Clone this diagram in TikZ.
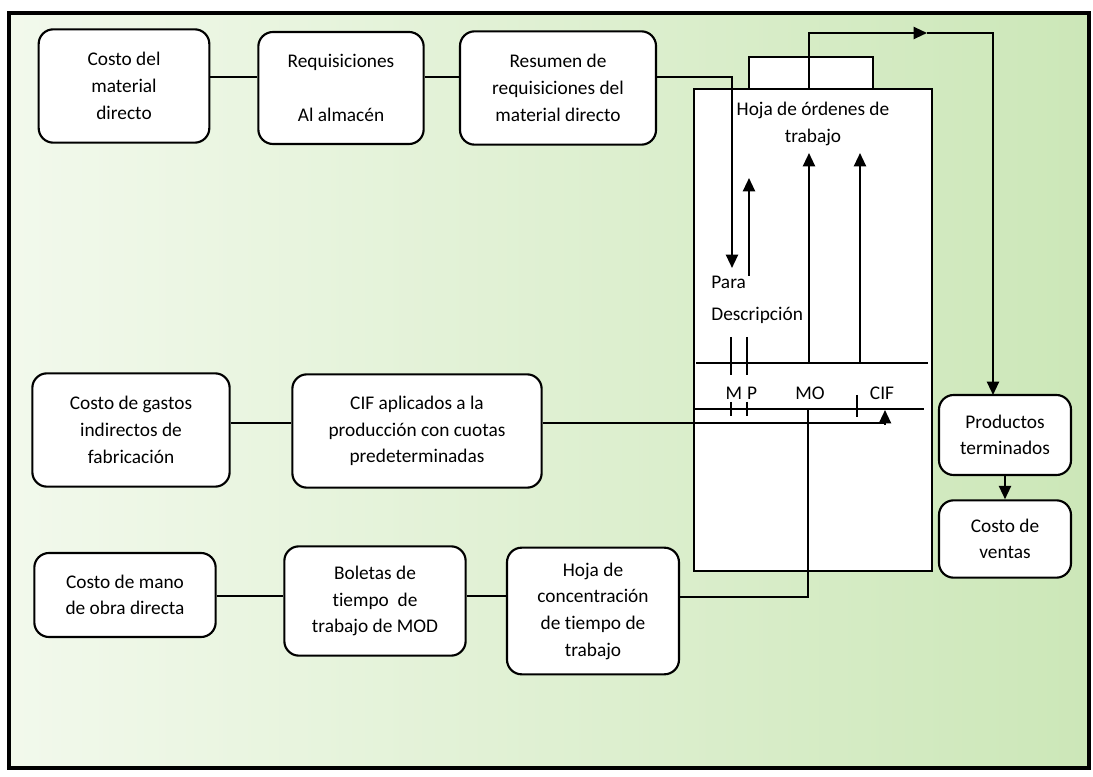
\documentclass[tikz,border=0pt]{standalone}
\usepackage{fontspec}
\setmainfont{Carlito}[Ligatures = CommonOff]
\usetikzlibrary{arrows.meta}
\definecolor{fondoizq}{RGB}{242,249,236}
\definecolor{fondomed}{RGB}{226,242,212}
\definecolor{fondoder}{RGB}{204,231,184}

\begin{document}
\begin{tikzpicture}[
    % one unit = one pixel of the reference
    x = 0.75pt, y = -0.75pt,
    line width = 1.6pt,
    > = {Triangle[length = 10pt, width = 9pt]},
    caja/.style = {draw, fill = white, rounded corners = 11pt,
      align = center, inner sep = 2pt,
      font = \fontsize{14.5}{20}\selectfont},
    hoja/.style = {draw, fill = white, rectangle, inner sep = 0pt},
    rotulo/.style = {font = \fontsize{14.5}{20}\selectfont, inner sep = 1pt},
    ]

    \useasboundingbox (0, 0) rectangle (1093, 777);
    % green background and frame
    \shade[left color = fondoizq, middle color = fondomed, right color = fondoder]
        (9, 13) rectangle (1089, 768);
    \draw[line width = 2.4pt] (9, 13) rectangle (1089, 768);

    % rows of boxes
    \node[caja, minimum width = 128pt, minimum height = 85pt] (cmd) at (124, 86)
        {Costo del\\ material\\ directo};
    \node[caja, minimum width = 124pt, minimum height = 84pt] (req) at (341, 88)
        {Requisiciones\\ ~\\ Al almacén};
    \node[caja, minimum width = 147pt, minimum height = 85pt] (res) at (558, 88)
        {Resumen de\\ requisiciones del\\ material directo};

    \node[caja, minimum width = 148pt, minimum height = 85pt] (cgi) at (131, 430)
        {Costo de gastos\\ indirectos de\\ fabricación};
    \node[caja, minimum width = 187pt, minimum height = 85pt] (cif) at (417, 431)
        {CIF aplicados a la\\ producción con cuotas\\ predeterminadas};

    \node[caja, minimum width = 136pt, minimum height = 63pt] (cmo) at (125, 595)
        {Costo de mano\\ de obra directa};
    \node[caja, minimum width = 136pt, minimum height = 82pt] (bol) at (375, 601)
        {Boletas de\\ tiempo~ de\\ trabajo de MOD};
    \node[caja, minimum width = 129pt, minimum height = 95pt] (hcon) at (593, 611)
        {Hoja de\\ concentración\\ de tiempo de\\ trabajo};

    \node[caja, minimum width = 99pt, minimum height = 60pt] (prod) at (1005, 435)
        {Productos\\ terminados};
    \node[caja, minimum width = 99pt, minimum height = 58pt] (cven) at (1005, 539)
        {Costo de\\ ventas};

    % job order sheet with its tab
    \node[hoja, minimum width = 93pt, minimum height = 24pt] (pest) at (811, 73) {};
    \node[hoja, minimum width = 178.5pt, minimum height = 361.5pt] (hoja) at (813, 330) {};
    \node[rotulo, align = center] (titulo) at (813, 124)
        {Hoja de órdenes de\\ trabajo};
    \node[rotulo, anchor = west] (para) at (709, 282) {Para};
    \node[rotulo, anchor = west] (desc) at (709, 315) {Descripción};
    \node[rotulo] (lm) at (734, 393) {M};
    \node[rotulo] (lp) at (752, 393) {P};
    \node[rotulo] (lmo) at (810, 393) {MO};
    \node[rotulo] (lcif) at (882, 393) {CIF};

    % helper points
    \coordinate (f1) at (0, 77);
    \coordinate (f2) at (0, 423);
    \coordinate (f3) at (0, 596);
    \coordinate (bajaMP) at (732, 268);
    \coordinate (subeP0) at (749, 276);
    \coordinate (subeP1) at (749, 178);
    \coordinate (subeMO0) at (809, 363);
    \coordinate (subeMO1) at (809, 153);
    \coordinate (subeCI0) at (860, 363);
    \coordinate (subeCI1) at (860, 153);
    \coordinate (rayaA0) at (696, 363);
    \coordinate (rayaA1) at (928, 363);
    \coordinate (rayaB0) at (694, 409);
    \coordinate (rayaB1) at (924, 409);
    \coordinate (salida) at (809, 89);
    \coordinate (arriba) at (927, 33);
    \coordinate (bajada) at (993, 395);
    \coordinate (cifpie) at (885, 425);
    \coordinate (cifpunta) at (885, 410);
    \coordinate (mopie) at (808, 409);
    \coordinate (moesq) at (808, 597);

    % row connectors
    \draw (cmd.east |- f1) -- (req.west |- f1);
    \draw (req.east |- f1) -- (res.west |- f1);
    \draw[->] (res.east |- f1) -| (bajaMP);
    \draw (cgi.east |- f2) -- (cif.west |- f2);
    \draw (cif.east |- f2) -- (cifpie |- f2) -- (cifpie);
    \draw[->] (cifpie) -- (cifpunta);
    \draw (cmo.east |- f3) -- (bol.west |- f3);
    \draw (bol.east |- f3) -- (hcon.west |- f3);
    \draw (hcon.east |- moesq) -- (moesq) -- (mopie);

    % inside the sheet
    \draw[->] (subeP0) -- (subeP1);
    \draw[->] (subeMO0) -- (subeMO1);
    \draw[->] (subeCI0) -- (subeCI1);
    \draw (rayaA0) -- (rayaA1);
    \draw (rayaB0) -- (rayaB1);
    \foreach \x in {731, 747} {
        \draw (\x, 337) -- (\x, 375);
        \draw (\x, 402) -- (\x, 416);
    }
    \draw (857, 395) -- (857, 417);

    % finished goods
    \draw[->] (salida) |- (arriba);
    \draw[->] (arriba) -| (bajada);
    \draw[->] (prod) -- (cven);

\end{tikzpicture}
\end{document}
